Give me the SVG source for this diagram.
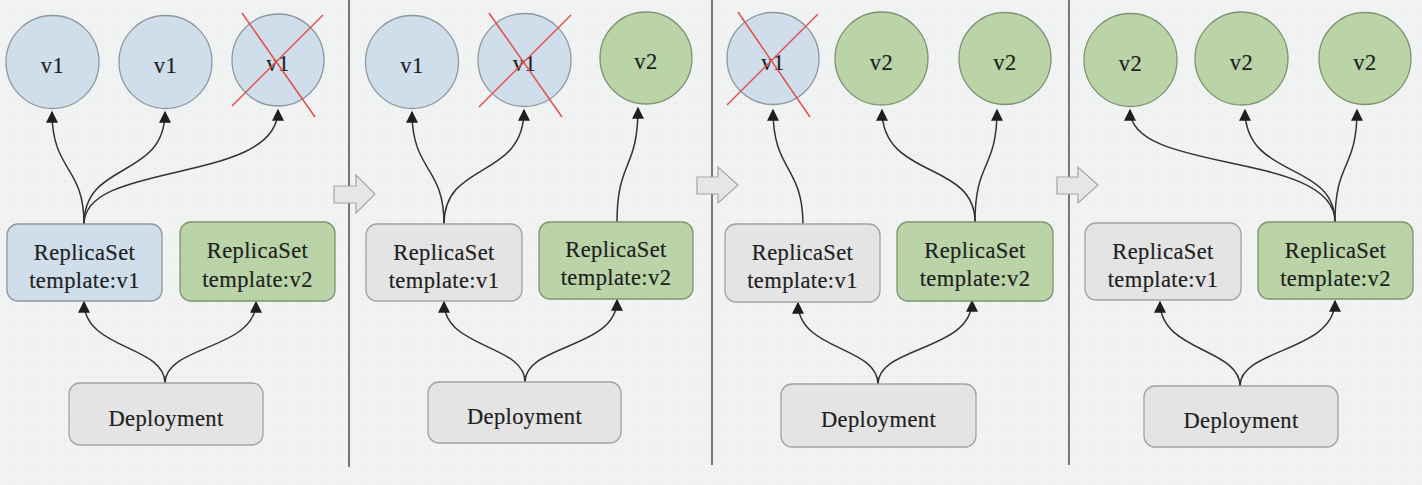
<svg xmlns="http://www.w3.org/2000/svg" width="1422" height="485" viewBox="0 0 1422 485">
<defs>
<pattern id="grid" width="13" height="13" patternUnits="userSpaceOnUse">
<path d="M13 0V13M0 13H13" fill="none" stroke="#e3e6e8" stroke-width="0.8" stroke-dasharray="1.5 1.5"/>
</pattern>
<marker id="ah" viewBox="0 0 10 10" refX="9" refY="5" markerWidth="13" markerHeight="12" markerUnits="userSpaceOnUse" orient="auto">
<path d="M0 0L10 5L0 10Z" fill="#1e1e1e"/>
</marker>
<style>
.blue{fill:#d0deec;stroke:#8f979f;stroke-width:1.3}
.green{fill:#bad4a8;stroke:#7e9371;stroke-width:1.3}
.grey{fill:#e4e4e4;stroke:#a2a2a2;stroke-width:1.3}
.t{font-family:"Liberation Serif","Times New Roman",serif;font-size:22.5px;letter-spacing:0.4px;fill:#1f1f1f;stroke:#1f1f1f;stroke-width:0.2;text-anchor:middle}
.c{fill:none;stroke:#333;stroke-width:1.5;marker-end:url(#ah)}
.x{stroke:#e0504a;stroke-width:1.5}
.div{stroke:#333;stroke-width:1.3}
.blk{fill:#e6e6e6;stroke:#a5a5a5;stroke-width:1.2}
</style>
</defs>
<rect width="1422" height="485" fill="#f1f2f2"/>
<rect width="1422" height="485" fill="url(#grid)"/>

<g id="dividers">
<line class="div" x1="349" y1="0" x2="349" y2="467"/>
<line class="div" x1="712" y1="0" x2="712" y2="465"/>
<line class="div" x1="1069" y1="0" x2="1069" y2="465"/>
</g>

<g id="step-arrows">
<path class="blk" d="M334 186H356V175L375 194L356 213V203H334Z"/>
<path class="blk" d="M697 177H718V167L738 185L718 203V194H697Z"/>
<path class="blk" d="M1057 177H1078V167L1098 185L1078 203V194H1057Z"/>
</g>

<g id="connectors">
<path class="c" d="M84 224C84 165 52 172 52 112"/>
<path class="c" d="M84 224C84 160 165 180 165 112"/>
<path class="c" d="M84 224C84 160 278 185 278 110"/>
<path class="c" d="M165 383C165 345 84 350 84 302"/>
<path class="c" d="M165 383C165 345 256 350 256 302"/>
<path class="c" d="M444 224C444 165 412 172 412 112"/>
<path class="c" d="M444 224C444 160 524 180 524 110"/>
<path class="c" d="M617 222C617 160 638 170 638 108"/>
<path class="c" d="M525 382C525 344 444 349 444 302"/>
<path class="c" d="M525 382C525 344 617 349 617 300"/>
<path class="c" d="M803 225C803 165 773 172 773 110"/>
<path class="c" d="M975 222C975 160 882 180 882 110"/>
<path class="c" d="M975 222C975 160 997 170 997 110"/>
<path class="c" d="M878 384C878 346 798 351 798 303"/>
<path class="c" d="M878 384C878 346 972 351 972 301"/>
<path class="c" d="M1335 222C1335 150 1130 175 1130 110"/>
<path class="c" d="M1335 222C1335 160 1245 180 1245 110"/>
<path class="c" d="M1335 222C1335 160 1357 170 1357 110"/>
<path class="c" d="M1240 386C1240 348 1160 352 1160 302"/>
<path class="c" d="M1240 386C1240 348 1335 352 1335 301"/>
</g>

<g id="p1-pod1"><circle class="blue" cx="52.5" cy="62" r="46.5"/><text class="t" x="52.5" y="73">v1</text></g>
<g id="p1-pod2"><circle class="blue" cx="165.5" cy="62" r="46.5"/><text class="t" x="165.5" y="73">v1</text></g>
<g id="p1-pod3"><circle class="blue" cx="278" cy="60" r="46"/><text class="t" x="278" y="71">v1</text>
<line class="x" x1="242" y1="13" x2="315" y2="117"/><line class="x" x1="323" y1="15" x2="232" y2="106"/></g>
<g id="p1-rs1"><rect class="blue" x="7" y="224" width="155" height="77" rx="11"/><text class="t" x="84.5" y="260">ReplicaSet</text><text class="t" x="84.5" y="288">template:v1</text></g>
<g id="p1-rs2"><rect class="green" x="180" y="222" width="155" height="79" rx="11"/><text class="t" x="257.5" y="258">ReplicaSet</text><text class="t" x="257.5" y="287">template:v2</text></g>
<g id="p1-dep"><rect class="grey" x="69" y="383" width="194" height="62" rx="11"/><text class="t" x="166" y="426">Deployment</text></g>

<g id="p2-pod1"><circle class="blue" cx="412" cy="62" r="46.5"/><text class="t" x="412" y="73">v1</text></g>
<g id="p2-pod2"><circle class="blue" cx="524.5" cy="60" r="46.5"/><text class="t" x="524.5" y="71">v1</text>
<line class="x" x1="489" y1="13" x2="562" y2="117"/><line class="x" x1="571" y1="15" x2="479" y2="107"/></g>
<g id="p2-pod3"><circle class="green" cx="646" cy="58" r="46"/><text class="t" x="646" y="69">v2</text></g>
<g id="p2-rs1"><rect class="grey" x="366" y="224" width="156" height="77" rx="11"/><text class="t" x="444" y="260">ReplicaSet</text><text class="t" x="444" y="288">template:v1</text></g>
<g id="p2-rs2"><rect class="green" x="539" y="222" width="154" height="77" rx="11"/><text class="t" x="616" y="257">ReplicaSet</text><text class="t" x="616" y="285">template:v2</text></g>
<g id="p2-dep"><rect class="grey" x="428" y="382" width="193" height="61" rx="11"/><text class="t" x="524.5" y="424">Deployment</text></g>

<g id="p3-pod1"><circle class="blue" cx="773" cy="58.5" r="46"/><text class="t" x="773" y="70">v1</text>
<line class="x" x1="738" y1="12" x2="810" y2="117"/><line class="x" x1="818" y1="14" x2="727" y2="105"/></g>
<g id="p3-pod2"><circle class="green" cx="881.5" cy="58.5" r="46.5"/><text class="t" x="881.5" y="70">v2</text></g>
<g id="p3-pod3"><circle class="green" cx="1005" cy="58.5" r="46"/><text class="t" x="1005" y="70">v2</text></g>
<g id="p3-rs1"><rect class="grey" x="725" y="224" width="155" height="78" rx="11"/><text class="t" x="802.5" y="260">ReplicaSet</text><text class="t" x="802.5" y="288">template:v1</text></g>
<g id="p3-rs2"><rect class="green" x="897" y="222" width="156" height="79" rx="11"/><text class="t" x="975" y="258">ReplicaSet</text><text class="t" x="975" y="286">template:v2</text></g>
<g id="p3-dep"><rect class="grey" x="781" y="384" width="195" height="63" rx="11"/><text class="t" x="878.5" y="427">Deployment</text></g>

<g id="p4-pod1"><circle class="green" cx="1130.5" cy="60" r="46.5"/><text class="t" x="1130.5" y="71">v2</text></g>
<g id="p4-pod2"><circle class="green" cx="1241.5" cy="58.5" r="46.5"/><text class="t" x="1241.5" y="70">v2</text></g>
<g id="p4-pod3"><circle class="green" cx="1365" cy="58.5" r="46"/><text class="t" x="1365" y="70">v2</text></g>
<g id="p4-rs1"><rect class="grey" x="1085" y="223" width="156" height="77" rx="11"/><text class="t" x="1163" y="259">ReplicaSet</text><text class="t" x="1163" y="287">template:v1</text></g>
<g id="p4-rs2"><rect class="green" x="1258" y="222" width="155" height="77" rx="11"/><text class="t" x="1335.5" y="258">ReplicaSet</text><text class="t" x="1335.5" y="286">template:v2</text></g>
<g id="p4-dep"><rect class="grey" x="1144" y="386" width="194" height="61" rx="11"/><text class="t" x="1241" y="428">Deployment</text></g>
</svg>
